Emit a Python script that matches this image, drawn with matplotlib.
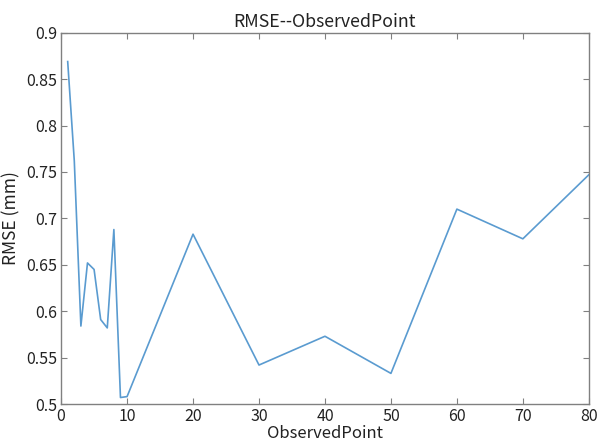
import numpy as np
import matplotlib
matplotlib.use('Agg')
import matplotlib.pyplot as plt

plt.rcParams['font.family'] = ['Noto Sans CJK JP', 'DejaVu Sans']

pts = [1, 2, 3, 4, 5, 6, 7, 8, 9, 10, 20, 30, 40, 50, 60, 70, 80]
rmse = [0.869, 0.762, 0.584, 0.652, 0.645, 0.591, 0.582, 0.688, 0.507, 0.508,
        0.683, 0.542, 0.573, 0.533, 0.710, 0.678, 0.747]

xticks = [0, 10, 20, 30, 40, 50, 60, 70, 80]
yticks = [0.5, 0.55, 0.6, 0.65, 0.7, 0.75, 0.8, 0.85, 0.9]

fig = plt.figure(figsize=(5.99, 4.43), dpi=100)
ax = fig.add_axes([0.102, 0.088, 0.881, 0.838])

ax.plot(pts, rmse, color='#5a9bd0', lw=1.2)

ax.set_xlim(0, 80)
ax.set_ylim(0.5, 0.9)
ax.set_xticks(xticks)
ax.set_yticks(yticks)
ax.set_yticklabels([('%g' % v) for v in yticks])

grey = '#808080'
for s in ax.spines.values():
    s.set_color(grey)
    s.set_linewidth(1.0)
ax.tick_params(direction='in', top=True, right=True, length=4, color=grey,
               labelsize=11.5, labelcolor='#222222', pad=3)

ax.set_title('RMSE--ObservedPoint', fontsize=12.8, color='#222222', pad=4)
ax.set_xlabel('ObservedPoint', fontsize=12, color='#222222', labelpad=0)
ax.set_ylabel('RMSE (mm)', fontsize=12.5, color='#222222', labelpad=4)

fig.savefig('out.png', dpi=100)
